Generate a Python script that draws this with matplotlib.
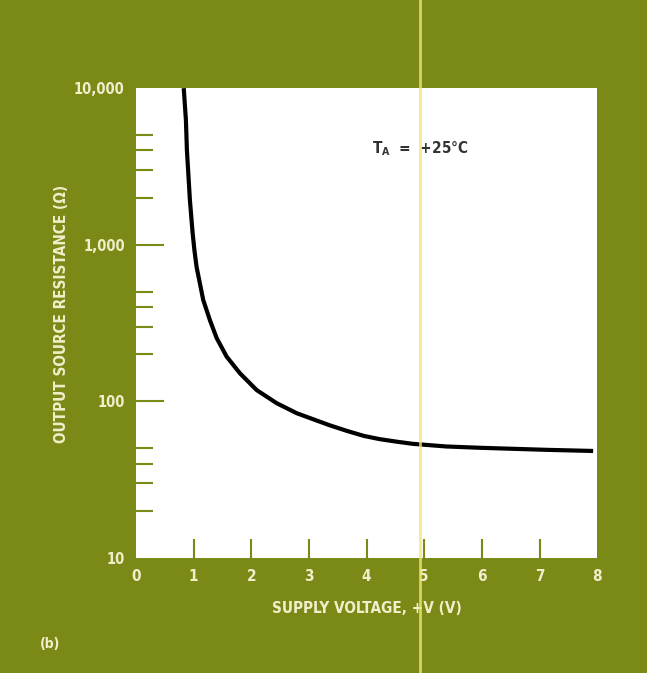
import matplotlib.pyplot as plt
from matplotlib.lines import Line2D

# curve
volts = [0.83, 0.868, 0.885, 0.911, 0.937, 0.984, 1.015, 1.053, 1.168, 1.284, 1.400, 1.574,
         1.805, 2.095, 2.442, 2.789, 3.072, 3.367, 3.662, 3.957, 4.234, 4.53, 4.807,
         5.38, 5.97, 7.13, 7.93]
ohms = [10000, 6250, 4020, 2790, 1930, 1190, 925, 721, 444, 330, 254, 193,
        151, 118, 97.3, 84, 76.9, 70.2, 64.7, 60.1, 57.3, 55.2, 53.5,
        51.5, 50.5, 49, 48.2]

xticks = [0, 1, 2, 3, 4, 5, 6, 7, 8]
yticks = [10, 100, 1000, 10000]
ylabels = ["10", "100", "1,000", "10,000"]

olive = "#7b8a16"
cream = "#f2eecb"
font = dict(family="DejaVu Sans", stretch="condensed", weight="bold", color=cream)

fig = plt.figure(figsize=(6.47, 6.73), dpi=100, facecolor=olive)
ax = fig.add_axes([0.210, 0.171, 0.713, 0.698])
ax.set_facecolor("white")

ax.plot(volts, ohms, color="black", lw=3, solid_capstyle="butt", solid_joinstyle="round")

ax.set_yscale("log")
ax.set_xlim(0, 8)
ax.set_ylim(10, 10000)
for s in ax.spines.values():
    s.set_visible(False)

ax.set_xticks(xticks)
ax.set_xticklabels([str(t) for t in xticks], fontsize=11, **font)
ax.set_yticks(yticks)
ax.set_yticklabels(ylabels, fontsize=10.5, **font)
ax.set_yticks([m * d for d in [10, 100, 1000] for m in [2, 3, 4, 5]], minor=True)
ax.yaxis.set_minor_formatter(plt.NullFormatter())
ax.tick_params(axis="x", direction="in", length=14, width=1.5, color=olive, pad=8)
ax.tick_params(axis="y", which="major", direction="in", length=20, width=1.5, color=olive, pad=8)
ax.tick_params(axis="y", which="minor", direction="in", length=12, width=1.5, color=olive)
# hide ticks at the edges like the original
ax.xaxis.get_major_ticks()[0].tick1line.set_visible(False)
ax.xaxis.get_major_ticks()[-1].tick1line.set_visible(False)
ax.yaxis.get_major_ticks()[0].tick1line.set_visible(False)
ax.yaxis.get_major_ticks()[-1].tick1line.set_visible(False)

ax.set_xlabel("SUPPLY VOLTAGE, +V (V)", fontsize=11, labelpad=12, **font)
ax.set_ylabel("OUTPUT SOURCE RESISTANCE (\u03a9)", fontsize=11, **font)
ax.yaxis.set_label_coords(-0.145, 0.52)

ax.text(4.1, 4100, r"T$_\mathregular{A}$  =  +25°C", fontsize=11, family="DejaVu Sans",
        stretch="condensed", weight="bold", color="#333333", va="center")

fig.text(0.062, 0.037, "(b)", fontsize=10, **font)

# scan crease
fig.add_artist(Line2D([0.649, 0.649], [0.0, 1.0], transform=fig.transFigure,
                      color="#f0e870", lw=2, alpha=0.8))

fig.savefig("out.png", dpi=100, facecolor=olive)
